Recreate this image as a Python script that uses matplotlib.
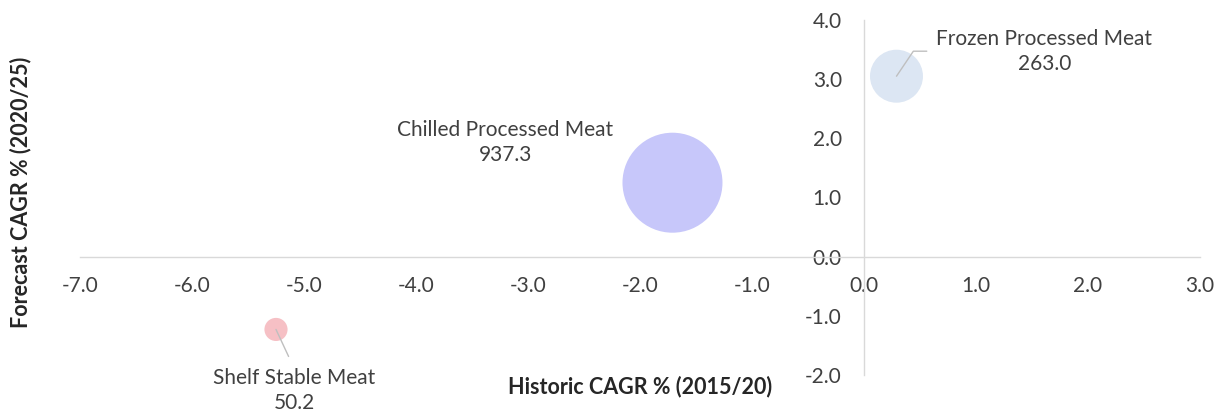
import matplotlib
matplotlib.use("Agg")
import matplotlib.pyplot as plt

plt.rcParams['font.family'] = ['Lato', 'DejaVu Sans']
plt.rcParams['axes.unicode_minus'] = False

# Bubble data: historic CAGR, forecast CAGR, market size
names = ["Chilled Processed Meat", "Frozen Processed Meat", "Shelf Stable Meat"]
hist_cagr = [-1.71, 0.29, -5.25]
fcst_cagr = [1.25, 3.05, -1.23]
size_val = [937.3, 263.0, 50.2]
colors = ["#C7C7FA", "#DCE6F3", "#F6C0C5"]

x_ticks = [-7, -6, -5, -4, -3, -2, -1, 0, 1, 2, 3]
y_ticks = [-2, -1, 0, 1, 2, 3, 4]

text_col = "#404040"
axis_col = "#D9D9D9"

fig = plt.figure(figsize=(12.25, 4.13), dpi=100)
ax = fig.add_axes([0.0653, 0.092, 0.9143, 0.8596])

# bubble area proportional to size
ax.scatter(hist_cagr, fcst_cagr, s=[v * 5.53 for v in size_val], c=colors,
           edgecolors="none", zorder=3, clip_on=False)

ax.set_xlim(-7, 3)
ax.set_ylim(-2, 4)

for side in ["top", "right"]:
    ax.spines[side].set_visible(False)
ax.spines["left"].set_position(("data", 0))
ax.spines["bottom"].set_position(("data", 0))
for side in ["left", "bottom"]:
    ax.spines[side].set_color(axis_col)
    ax.spines[side].set_linewidth(1.0)

ax.set_xticks(x_ticks)
ax.set_yticks(y_ticks)
ax.set_xticklabels([f"{t:.1f}" for t in x_ticks])
ax.set_yticklabels([f"{t:.1f}" for t in y_ticks])
ax.tick_params(axis="x", length=0, pad=14, labelsize=15, labelcolor=text_col)
ax.tick_params(axis="y", length=0, pad=16, labelsize=15, labelcolor=text_col)

# axis titles
fig.text(640 / 1225, 1 - 387 / 413, "Historic CAGR % (2015/20)", ha="center", va="center",
         fontsize=15.5, fontweight="bold", color="#262626")
fig.text(21 / 1225, 1 - 192 / 413, "Forecast CAGR % (2020/25)", ha="center", va="center",
         rotation=90, fontsize=15.5, fontweight="bold", color="#262626")

# data labels
leader = dict(arrowstyle="-", color="#BFBFBF", lw=1.0, shrinkB=0)
ax.annotate(f"{names[0]}\n{size_val[0]:.1f}", (hist_cagr[0], fcst_cagr[0]),
            xytext=(-167, 40), textcoords="offset pixels", ha="center", va="center",
            fontsize=15, color=text_col, linespacing=1.3)
ax.annotate(f"{names[1]}\n{size_val[1]:.1f}", (hist_cagr[1], fcst_cagr[1]),
            xytext=(148, 25), textcoords="offset pixels", ha="center", va="center",
            fontsize=15, color=text_col, linespacing=1.3,
            arrowprops=dict(leader, relpos=(0, 0.5), shrinkA=5,
                            connectionstyle="angle,angleA=0,angleB=56,rad=0"))
ax.annotate(f"{names[2]}\n{size_val[2]:.1f}", (hist_cagr[2], fcst_cagr[2]),
            xytext=(18, -61), textcoords="offset pixels", ha="center", va="center",
            fontsize=15, color=text_col, linespacing=1.3,
            arrowprops=dict(leader, relpos=(0.5, 1), shrinkA=7))

fig.savefig("out.png", dpi=100, facecolor="white")
